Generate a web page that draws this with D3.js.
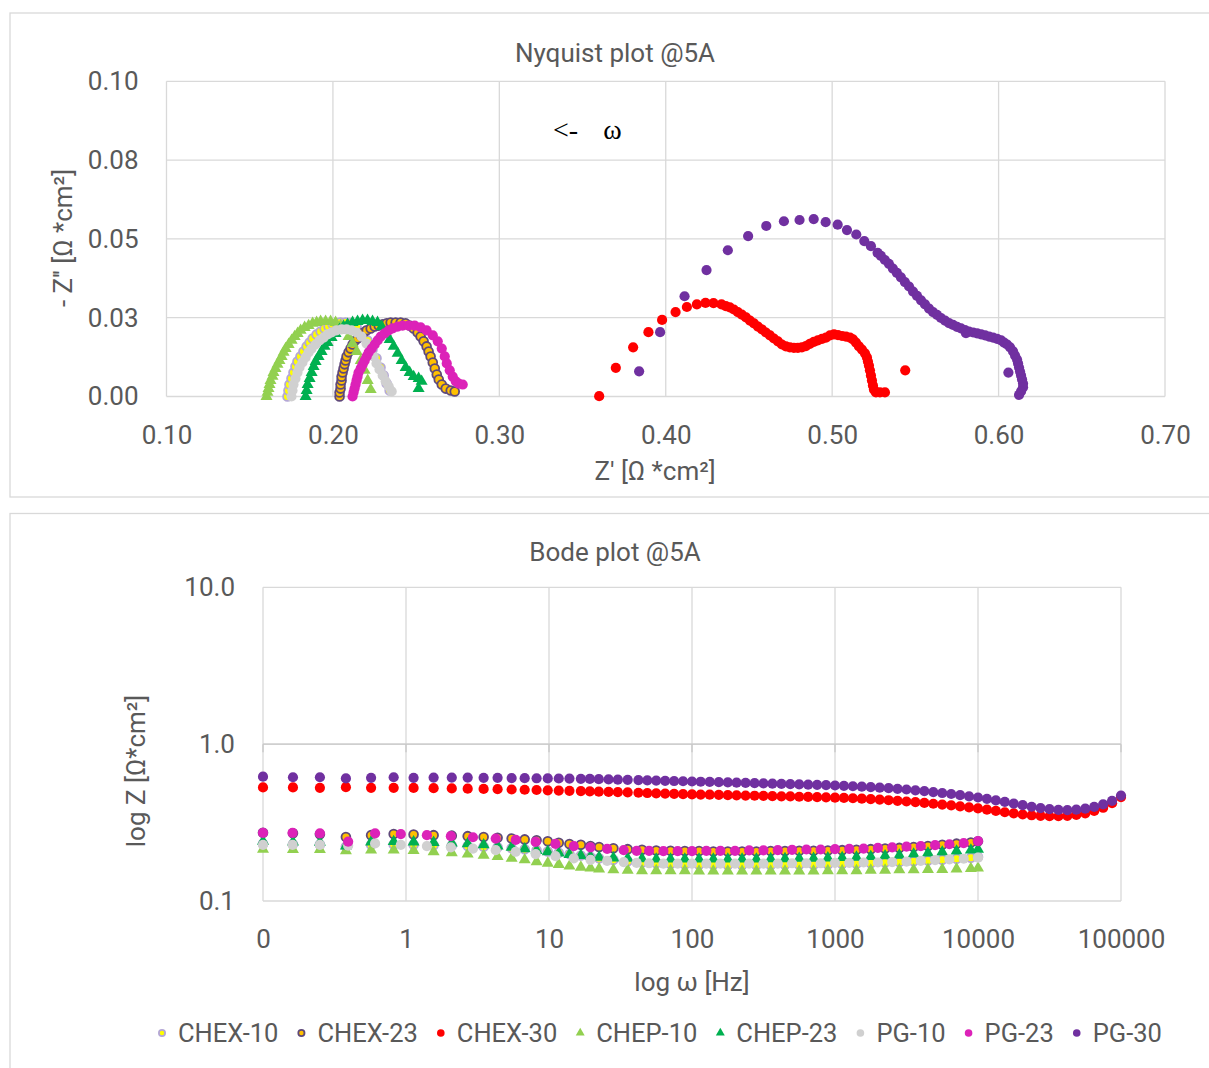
<!DOCTYPE html>
<html>
<head>
<meta charset="utf-8">
<script src="https://cdn.jsdelivr.net/npm/d3@7"></script>
<style>
    body { margin: 0; background: #fff; }
    text { font-family: Roboto, "Liberation Sans", sans-serif; }
</style>
</head>
<body>
<svg id="chart" width="1209" height="1068"></svg>
<script>
// ---------------- Nyquist data: [Z', -Z''] (Ohm*cm2) ----------------
var nyqCHEX10 = [[0.1727,0],[0.1733,0.0019],[0.1739,0.0038],[0.1751,0.0057],[0.1763,0.0076],[0.1775,0.0095],
    [0.1787,0.0111],[0.1805,0.0127],[0.1823,0.0143],[0.1842,0.0159],[0.186,0.0171],[0.1878,0.0184],[0.1902,0.0197],
    [0.1926,0.0206],[0.195,0.0216],[0.1974,0.0222],[0.1998,0.0229],[0.2022,0.0232],[0.2046,0.0235],[0.2076,0.0235],
    [0.2106,0.0232],[0.2142,0.0222],[0.2178,0.0203],[0.2208,0.0178],[0.2238,0.0149],[0.2262,0.0121],[0.2286,0.0092],
    [0.2305,0.0067],[0.2323,0.0041],[0.2341,0.0019]];
var nyqCHEX23 = [[0.204,0],[0.204,0.0013],[0.2046,0.0025],[0.2046,0.0038],[0.2052,0.0051],[0.2052,0.0063],
    [0.2058,0.0076],[0.2064,0.0089],[0.207,0.0102],[0.2076,0.0114],[0.2082,0.0127],[0.2094,0.014],[0.2106,0.0152],
    [0.2118,0.0165],[0.213,0.0175],[0.2148,0.0184],[0.2167,0.0194],[0.2185,0.0203],[0.2203,0.021],[0.2227,0.0216],
    [0.2251,0.0222],[0.2275,0.0225],[0.2299,0.0229],[0.2323,0.0232],[0.2347,0.0235],[0.2377,0.0235],[0.2407,0.0235],
    [0.2437,0.0232],[0.2461,0.0225],[0.2485,0.0216],[0.2509,0.0203],[0.2527,0.019],[0.2545,0.0175],[0.2563,0.0159],
    [0.2575,0.0143],[0.2587,0.0127],[0.26,0.0108],[0.2612,0.0089],[0.2624,0.007],[0.2636,0.0054],[0.2654,0.0038],
    [0.2678,0.0025],[0.2708,0.0019],[0.2732,0.0016]];
var nyqCHEX30 = [[0.36,0.0001],[0.37,0.0091],[0.3804,0.0156],[0.3896,0.0204],[0.3978,0.0243],[0.4059,0.0268],
    [0.4127,0.0284],[0.4187,0.0292],[0.4239,0.0297],[0.4287,0.0296],[0.4335,0.0292],[0.4361,0.0287],[0.4385,0.0283],
    [0.4409,0.0276],[0.4433,0.0268],[0.4457,0.026],[0.4482,0.0251],[0.4506,0.0241],[0.453,0.0232],[0.4554,0.0222],
    [0.4578,0.0213],[0.4602,0.0203],[0.4626,0.0194],[0.465,0.0184],[0.4674,0.0175],[0.4698,0.0165],[0.4722,0.0159],
    [0.4746,0.0156],[0.477,0.0154],[0.4794,0.0154],[0.4818,0.0156],[0.4842,0.016],[0.4866,0.0167],[0.489,0.0173],
    [0.4914,0.0178],[0.4939,0.0183],[0.4963,0.0187],[0.4987,0.0194],[0.5011,0.0197],[0.5035,0.0195],[0.5059,0.0192],
    [0.5083,0.019],[0.5107,0.0187],[0.5125,0.0181],[0.5143,0.0171],[0.5161,0.0159],[0.5179,0.0149],[0.5197,0.0137],
    [0.5209,0.0124],[0.5215,0.0111],[0.5221,0.0098],[0.5227,0.0083],[0.5233,0.0067],[0.5239,0.0051],[0.5245,0.0035],
    [0.5251,0.0022],[0.5263,0.0013],[0.5287,0.0013],[0.5317,0.0013],[0.5439,0.0083]];
var nyqCHEP10 = [[0.1601,0],[0.1607,0.0013],[0.1613,0.0025],[0.1619,0.0038],[0.1625,0.0051],[0.1637,0.0064],
    [0.1643,0.0076],[0.1655,0.0089],[0.1667,0.0102],[0.1679,0.0114],[0.1692,0.0127],[0.1704,0.014],[0.1716,0.0152],
    [0.1734,0.0165],[0.1752,0.0178],[0.177,0.019],[0.1788,0.02],[0.1806,0.021],[0.183,0.0219],[0.1854,0.0225],
    [0.1878,0.0232],[0.1902,0.0235],[0.1926,0.0238],[0.1956,0.0238],[0.1986,0.0238],[0.2016,0.0235],[0.2046,0.0225],
    [0.207,0.021],[0.2094,0.019],[0.2118,0.0168],[0.2143,0.0143],[0.2167,0.0114],[0.2191,0.0083],[0.2209,0.0051],
    [0.2227,0.0022]];
var nyqCHEP23 = [[0.1836,0],[0.1842,0.0019],[0.1848,0.0038],[0.186,0.0057],[0.1872,0.0076],[0.1884,0.0095],
    [0.1896,0.0111],[0.1914,0.0127],[0.1932,0.0143],[0.195,0.0159],[0.1968,0.0171],[0.1992,0.0187],[0.2016,0.02],
    [0.204,0.0213],[0.2064,0.0222],[0.2088,0.0229],[0.2118,0.0235],[0.2148,0.0238],[0.2178,0.0241],[0.2208,0.0241],
    [0.2238,0.0238],[0.2268,0.0235],[0.2293,0.0222],[0.2317,0.0203],[0.2341,0.0181],[0.2365,0.0159],[0.2389,0.0137],
    [0.2413,0.0114],[0.2437,0.0092],[0.2461,0.0076],[0.2485,0.0063],[0.2515,0.0057],[0.2533,0.0048],[0.2515,0.0025]];
var nyqPG10 = [[0.1751,0],[0.1757,0.0019],[0.1763,0.0038],[0.1775,0.0057],[0.1787,0.0076],[0.1799,0.0092],
    [0.1817,0.0108],[0.1836,0.0124],[0.1854,0.014],[0.1872,0.0152],[0.1896,0.0165],[0.192,0.0178],[0.1944,0.0187],
    [0.1968,0.0197],[0.1992,0.0203],[0.2022,0.021],[0.2052,0.0213],[0.2082,0.0213],[0.2112,0.021],[0.2142,0.0203],
    [0.2172,0.019],[0.2202,0.0168],[0.2226,0.0146],[0.2244,0.0127],[0.2262,0.0105],[0.228,0.0086],[0.2299,0.0067],
    [0.2317,0.0048],[0.2335,0.0032],[0.2353,0.0016]];
var nyqPG23 = [[0.2118,0],[0.2124,0.0013],[0.213,0.0025],[0.2136,0.0038],[0.2142,0.0051],[0.2148,0.0063],
    [0.2154,0.0076],[0.2167,0.0089],[0.2179,0.0102],[0.2191,0.0114],[0.2203,0.0127],[0.2215,0.014],[0.2233,0.0152],
    [0.2251,0.0165],[0.2269,0.0178],[0.2287,0.019],[0.2311,0.02],[0.2335,0.021],[0.2359,0.0216],[0.2389,0.0222],
    [0.2419,0.0225],[0.2455,0.0225],[0.2491,0.0225],[0.2527,0.0219],[0.2563,0.021],[0.26,0.0194],[0.263,0.0175],
    [0.2654,0.0152],[0.2672,0.0127],[0.2684,0.0105],[0.2702,0.0083],[0.272,0.0063],[0.2738,0.0048],[0.2756,0.0041],
    [0.278,0.0038]];
var nyqPG30 = [[0.384,0.008],[0.3966,0.0204],[0.4113,0.0318],[0.4245,0.0401],[0.4373,0.0464],[0.4495,0.0509],
    [0.4604,0.0541],[0.471,0.0556],[0.4804,0.056],[0.4889,0.0563],[0.4961,0.0553],[0.5033,0.0545],[0.5089,0.0528],
    [0.5145,0.0514],[0.5193,0.0493],[0.5233,0.0477],[0.5273,0.0456],[0.5293,0.0446],[0.5317,0.0433],[0.5341,0.0421],
    [0.5365,0.0406],[0.5389,0.0392],[0.5413,0.0378],[0.5437,0.0363],[0.5462,0.0349],[0.5486,0.0333],[0.551,0.0319],
    [0.5534,0.0305],[0.5558,0.0292],[0.5582,0.0279],[0.5606,0.0268],[0.563,0.0259],[0.5654,0.0249],[0.5678,0.0241],
    [0.5702,0.0233],[0.5726,0.0227],[0.575,0.0221],[0.5774,0.0216],[0.5798,0.0211],[0.5822,0.0206],[0.5847,0.0203],
    [0.5871,0.02],[0.5895,0.0197],[0.5919,0.0194],[0.5943,0.019],[0.5967,0.0187],[0.5991,0.0183],[0.6015,0.0178],
    [0.6033,0.0171],[0.6051,0.0165],[0.6069,0.0156],[0.6087,0.0143],[0.6099,0.013],[0.6111,0.0117],[0.6117,0.0105],
    [0.6123,0.0092],[0.6129,0.0079],[0.6135,0.0067],[0.6141,0.0054],[0.6147,0.0041],[0.6147,0.0029],[0.6135,0.0016],
    [0.6123,0.0005],[0.6059,0.0076],[0.5804,0.0201]];

// ---------------- Bode data: frequency (Hz) and |Z| (Ohm*cm2) ----------------
var freqCH = [0.1, 0.162, 0.25, 0.38, 0.57, 0.82, 1.13, 1.56, 2.09, 2.7, 3.49, 4.37, 5.48, 6.76, 8.19, 9.8,
    11.7, 13.9, 16.7, 19.5, 22.4, 28.2, 35.5, 44.7, 56.2, 70.8, 89.1, 112, 141, 178, 224, 282, 355, 447, 562, 708,
    891, 1122, 1413, 1778, 2239, 2818, 3548, 4467, 5623, 7079, 8913, 10000];
var freqPG = [0.1, 0.161, 0.25, 0.394, 0.608, 0.92, 1.40, 2.06, 2.94, 4.24, 5.85, 8.07, 11.1, 14.9, 19.5, 25.5,
    33.3, 41, 50.1, 63.1, 79.4, 100, 126, 158, 200, 251, 316, 398, 501, 631, 794, 1000, 1259, 1585, 1995, 2512,
    3162, 3981, 5012, 6310, 7943, 10000];
var freq30 = [0.1, 0.162, 0.25, 0.38, 0.57, 0.82, 1.13, 1.56, 2.09, 2.7, 3.49, 4.37, 5.48, 6.76, 8.19, 9.8,
    11.7, 13.9, 16.7, 19.3, 22.3, 26.1, 30.3, 35.5, 42.2, 48.7, 56.2, 64.9, 75, 86.6, 100,
    115, 133, 154, 178, 205, 237, 274, 316, 365, 422, 487, 562, 649, 750, 866, 1000,
    1155, 1334, 1540, 1778, 2054, 2371, 2738, 3162, 3652, 4217, 4870, 5623, 6494, 7499, 8660, 10000,
    11548, 13335, 15399, 17783, 20535, 23714, 27384, 31623, 36517, 42170, 48697, 56234, 64938, 74989, 86596, 100000];

var bodeCHEX10 = [0.232, 0.23, 0.229, 0.222, 0.228, 0.229, 0.228, 0.227, 0.226, 0.224, 0.222, 0.22, 0.217, 0.214,
    0.211, 0.207, 0.203, 0.199, 0.195, 0.191, 0.187, 0.183, 0.179, 0.176, 0.174, 0.172, 0.171, 0.17, 0.17, 0.169,
    0.169, 0.169, 0.169, 0.17, 0.17, 0.17, 0.171, 0.172, 0.173, 0.174, 0.176, 0.177, 0.179, 0.181, 0.183, 0.186,
    0.189, 0.191];
var bodeCHEX23 = [0.272, 0.27, 0.266, 0.256, 0.263, 0.267, 0.265, 0.263, 0.261, 0.259, 0.256, 0.253, 0.25, 0.247,
    0.244, 0.24, 0.235, 0.231, 0.228, 0.224, 0.221, 0.217, 0.214, 0.212, 0.21, 0.209, 0.208, 0.208, 0.207, 0.207,
    0.207, 0.207, 0.208, 0.208, 0.209, 0.209, 0.21, 0.211, 0.212, 0.214, 0.216, 0.218, 0.221, 0.224, 0.228, 0.232,
    0.236, 0.24];
var bodeCHEX30 = [0.53, 0.53, 0.527, 0.532, 0.527, 0.527, 0.526, 0.524, 0.522, 0.52, 0.518, 0.516, 0.514, 0.512,
    0.51, 0.508, 0.506, 0.504, 0.502, 0.5, 0.498, 0.496, 0.494, 0.492, 0.49, 0.488, 0.486, 0.484, 0.482, 0.48, 0.478,
    0.477, 0.476, 0.475, 0.473, 0.472, 0.47, 0.469, 0.468, 0.466, 0.465, 0.464, 0.462, 0.461, 0.459, 0.458, 0.456,
    0.454, 0.452, 0.449, 0.446, 0.443, 0.439, 0.435, 0.431, 0.427, 0.422, 0.417, 0.412, 0.407, 0.401, 0.395, 0.389,
    0.382, 0.375, 0.368, 0.362, 0.356, 0.352, 0.349, 0.347, 0.347, 0.349, 0.354, 0.362, 0.375, 0.393, 0.42, 0.46];
var bodeCHEP10 = [0.214, 0.213, 0.213, 0.209, 0.211, 0.211, 0.21, 0.206, 0.203, 0.199, 0.196, 0.192, 0.187, 0.183,
    0.178, 0.174, 0.171, 0.167, 0.164, 0.162, 0.16, 0.158, 0.157, 0.156, 0.156, 0.156, 0.156, 0.155, 0.155, 0.155,
    0.155, 0.155, 0.155, 0.155, 0.155, 0.155, 0.156, 0.156, 0.156, 0.157, 0.157, 0.158, 0.158, 0.159, 0.159, 0.16,
    0.161, 0.162];
var bodeCHEP23 = [0.24, 0.238, 0.237, 0.224, 0.238, 0.239, 0.238, 0.236, 0.234, 0.232, 0.228, 0.224, 0.22, 0.215,
    0.21, 0.206, 0.202, 0.198, 0.195, 0.192, 0.19, 0.188, 0.187, 0.186, 0.185, 0.185, 0.185, 0.185, 0.185, 0.185,
    0.185, 0.185, 0.186, 0.186, 0.187, 0.187, 0.188, 0.189, 0.19, 0.192, 0.194, 0.196, 0.199, 0.202, 0.205, 0.208,
    0.211, 0.214];
var bodePG10 = [0.228, 0.228, 0.228, 0.225, 0.233, 0.228, 0.224, 0.22, 0.216, 0.211, 0.206, 0.199, 0.193, 0.187,
    0.183, 0.18, 0.177, 0.175, 0.174, 0.173, 0.173, 0.173, 0.173, 0.173, 0.173, 0.173, 0.173, 0.173, 0.174, 0.174,
    0.174, 0.175, 0.175, 0.176, 0.176, 0.177, 0.178, 0.18, 0.182, 0.184, 0.186, 0.189];
var bodePG23 = [0.272, 0.272, 0.27, 0.239, 0.27, 0.267, 0.263, 0.259, 0.255, 0.25, 0.245, 0.238, 0.231, 0.224,
    0.22, 0.215, 0.211, 0.209, 0.209, 0.208, 0.208, 0.208, 0.209, 0.209, 0.209, 0.21, 0.21, 0.211, 0.212, 0.213,
    0.213, 0.214, 0.215, 0.216, 0.218, 0.22, 0.222, 0.224, 0.227, 0.23, 0.234, 0.241];
var bodePG30 = [0.62, 0.615, 0.615, 0.605, 0.61, 0.615, 0.61, 0.612, 0.612, 0.612, 0.61, 0.61, 0.608, 0.607,
    0.606, 0.605, 0.604, 0.603, 0.601, 0.6, 0.598, 0.596, 0.594, 0.592, 0.59, 0.588, 0.586, 0.584, 0.582, 0.58, 0.578,
    0.576, 0.574, 0.572, 0.57, 0.568, 0.566, 0.564, 0.562, 0.56, 0.558, 0.556, 0.554, 0.552, 0.55, 0.548, 0.545,
    0.542, 0.539, 0.536, 0.532, 0.528, 0.524, 0.519, 0.514, 0.508, 0.502, 0.495, 0.488, 0.481, 0.473, 0.465, 0.457,
    0.448, 0.438, 0.428, 0.418, 0.408, 0.399, 0.391, 0.385, 0.381, 0.38, 0.382, 0.388, 0.398, 0.413, 0.435, 0.47];

var seriesNames = ["CHEX-10", "CHEX-23", "CHEX-30", "CHEP-10", "CHEP-23", "PG-10", "PG-23", "PG-30"];

// ticks
var nyqXTicks = [0.1, 0.2, 0.3, 0.4, 0.5, 0.6, 0.7];
var nyqXLabels = ["0.10", "0.20", "0.30", "0.40", "0.50", "0.60", "0.70"];
var nyqYTicks = [0, 0.025, 0.05, 0.075, 0.1];
var nyqYLabels = ["0.00", "0.03", "0.05", "0.08", "0.10"];
var bodeXTicks = [0.1, 1, 10, 100, 1000, 10000, 100000];
var bodeXLabels = ["0", "1", "10", "100", "1000", "10000", "100000"];
var bodeYTicks = [0.1, 1, 10];
var bodeYLabels = ["0.1", "1.0", "10.0"];

// series data lookup (built from the arrays above)
var nyqData = {
    "CHEX-10": nyqCHEX10, "CHEX-23": nyqCHEX23, "CHEX-30": nyqCHEX30, "CHEP-10": nyqCHEP10,
    "CHEP-23": nyqCHEP23, "PG-10": nyqPG10, "PG-23": nyqPG23, "PG-30": nyqPG30
};
var bodeData = {
    "CHEX-10": d3.zip(freqCH, bodeCHEX10), "CHEX-23": d3.zip(freqCH, bodeCHEX23),
    "CHEX-30": d3.zip(freq30, bodeCHEX30), "CHEP-10": d3.zip(freqCH, bodeCHEP10),
    "CHEP-23": d3.zip(freqCH, bodeCHEP23), "PG-10": d3.zip(freqPG, bodePG10),
    "PG-23": d3.zip(freqPG, bodePG23), "PG-30": d3.zip(freq30, bodePG30)
};

// marker styles
var styles = {
    "CHEX-10": {shape: "circle", fill: "#ffff00", stroke: "#b4a7d6"},
    "CHEX-23": {shape: "circle", fill: "#ffc000", stroke: "#5f497a"},
    "CHEX-30": {shape: "circle", fill: "#ff0000", stroke: null},
    "CHEP-10": {shape: "triangle", fill: "#92d050", stroke: null},
    "CHEP-23": {shape: "triangle", fill: "#00b050", stroke: null},
    "PG-10": {shape: "circle", fill: "#d0d0d0", stroke: null},
    "PG-23": {shape: "circle", fill: "#dc22b8", stroke: null},
    "PG-30": {shape: "circle", fill: "#7030a0", stroke: null}
};

var textColor = "#595959";
var gridColor = "#d9d9d9";
var svg = d3.select("#chart");

function drawFrame(x, y, w, h) {
    svg.append("rect")
        .attr("x", x).attr("y", y).attr("width", w).attr("height", h)
        .attr("fill", "none").attr("stroke", gridColor).attr("stroke-width", 1.3);
}

function drawGrid(g, xs, ys, xt, yt) {
    g.selectAll(null).data(xt).join("line")
        .attr("x1", function (d) { return xs(d); }).attr("x2", function (d) { return xs(d); })
        .attr("y1", ys.range()[0]).attr("y2", ys.range()[1])
        .attr("stroke", gridColor).attr("stroke-width", 1.3);
    g.selectAll(null).data(yt).join("line")
        .attr("y1", function (d) { return ys(d); }).attr("y2", function (d) { return ys(d); })
        .attr("x1", xs.range()[0]).attr("x2", xs.range()[1])
        .attr("stroke", gridColor).attr("stroke-width", 1.3);
}

function styleAxis(g) {
    g.select(".domain").remove();
    g.selectAll("text")
        .attr("fill", textColor)
        .style("font-size", "26px");
}

function drawMarkers(g, pts, xs, ys, st, r) {
    if (st.shape === "triangle") {
        g.selectAll(null).data(pts).join("path")
            .attr("d", d3.symbol(d3.symbolTriangle, r * r * 2.4))
            .attr("transform", function (d) { return "translate(" + xs(d[0]) + "," + ys(d[1]) + ")"; })
            .attr("fill", st.fill);
    } else {
        g.selectAll(null).data(pts).join("circle")
            .attr("cx", function (d) { return xs(d[0]); })
            .attr("cy", function (d) { return ys(d[1]); })
            .attr("r", st.stroke ? r - 0.7 : r)
            .attr("fill", st.fill)
            .attr("stroke", st.stroke || "none")
            .attr("stroke-width", st.stroke ? 1.8 : 0);
    }
}

function addText(x, y, str, size, opts) {
    opts = opts || {};
    var t = svg.append("text")
        .attr("x", x).attr("y", y)
        .attr("text-anchor", opts.anchor || "middle")
        .attr("fill", opts.color || textColor)
        .style("font-size", size + "px")
        .text(str);
    if (opts.rotate) {
        t.attr("x", 0).attr("y", 0)
            .attr("transform", "translate(" + x + "," + y + ") rotate(-90)");
    }
    if (opts.family) t.style("font-family", opts.family);
    return t;
}

// frames
drawFrame(10, 13, 1215, 484);
drawFrame(10, 513.5, 1215, 570);

// ================= Nyquist =================
var nx = d3.scaleLinear().domain([0.1, 0.7]).range([166.5, 1165]);
var ny = d3.scaleLinear().domain([0, 0.1]).range([396.5, 81.3]);

var gN = svg.append("g");
drawGrid(gN, nx, ny, nyqXTicks, nyqYTicks);

gN.append("g")
    .attr("transform", "translate(0," + ny(0) + ")")
    .call(d3.axisBottom(nx).tickValues(nyqXTicks)
        .tickFormat(function (d, i) { return nyqXLabels[i]; })
        .tickSize(0).tickPadding(29))
    .call(styleAxis);
gN.append("g")
    .attr("transform", "translate(" + nx(0.1) + ",0)")
    .call(d3.axisLeft(ny).tickValues(nyqYTicks)
        .tickFormat(function (d, i) { return nyqYLabels[i]; })
        .tickSize(0).tickPadding(28))
    .call(styleAxis);

seriesNames.forEach(function (name) {
    drawMarkers(gN.append("g"), nyqData[name], nx, ny, styles[name], 5.1);
});

addText(615, 62, "Nyquist plot @5A", 26);
addText(655, 480, "Z' [\u03A9 *cm\u00B2]", 26);
addText(72, 238, "- Z'' [\u03A9 *cm\u00B2]", 26, {rotate: true});
// frequency direction note
addText(nx(0.3323), ny(0.0817), "<-", 28, {anchor: "start", color: "#000", family: "'Liberation Serif', serif"});
addText(nx(0.3625), ny(0.0817), "\u03C9", 28, {anchor: "start", color: "#000", family: "'Liberation Serif', serif"});

// ================= Bode =================
var bx = d3.scaleLog().domain([0.1, 100000]).range([263, 1121]);
var by = d3.scaleLog().domain([0.1, 10]).range([901, 587.3]);

var gB = svg.append("g");
drawGrid(gB, bx, by, bodeXTicks, bodeYTicks);

// horizontal axis crosses at 1.0 (excel default for log axes)
gB.append("line")
    .attr("x1", bx.range()[0]).attr("x2", bx.range()[1])
    .attr("y1", by(1)).attr("y2", by(1))
    .attr("stroke", "#c8c8c8").attr("stroke-width", 1.3);
gB.selectAll(null).data(bodeXTicks).join("line")
    .attr("x1", function (d) { return bx(d); }).attr("x2", function (d) { return bx(d); })
    .attr("y1", by(1)).attr("y2", by(1) + 8)
    .attr("stroke", "#c8c8c8").attr("stroke-width", 1.3);

gB.append("g")
    .attr("transform", "translate(0," + by(0.1) + ")")
    .call(d3.axisBottom(bx).tickValues(bodeXTicks)
        .tickFormat(function (d, i) { return bodeXLabels[i]; })
        .tickSize(0).tickPadding(29))
    .call(styleAxis);
gB.append("g")
    .attr("transform", "translate(" + bx(0.1) + ",0)")
    .call(d3.axisLeft(by).tickValues(bodeYTicks)
        .tickFormat(function (d, i) { return bodeYLabels[i]; })
        .tickSize(0).tickPadding(28))
    .call(styleAxis);

seriesNames.forEach(function (name) {
    drawMarkers(gB.append("g"), bodeData[name], bx, by, styles[name], 5.1);
});

addText(615, 561, "Bode plot @5A", 26);
addText(692, 991, "log \u03C9 [Hz]", 26);
addText(145, 771, "log Z [\u03A9*cm\u00B2]", 26, {rotate: true});

// ================= Legend =================
var legend = svg.append("g");
var lx = 162, ly = 1033;
seriesNames.forEach(function (name) {
    var item = legend.append("g");
    drawMarkers(item, [[lx, ly]], function (v) { return v; }, function (v) { return v; }, styles[name], 3.8);
    var t = item.append("text")
        .attr("x", lx + 16).attr("y", ly + 9)
        .attr("fill", textColor)
        .style("font-size", "25.5px")
        .text(name);
    lx = lx + 16 + t.node().getComputedTextLength() + 23;
});
</script>
</body>
</html>
